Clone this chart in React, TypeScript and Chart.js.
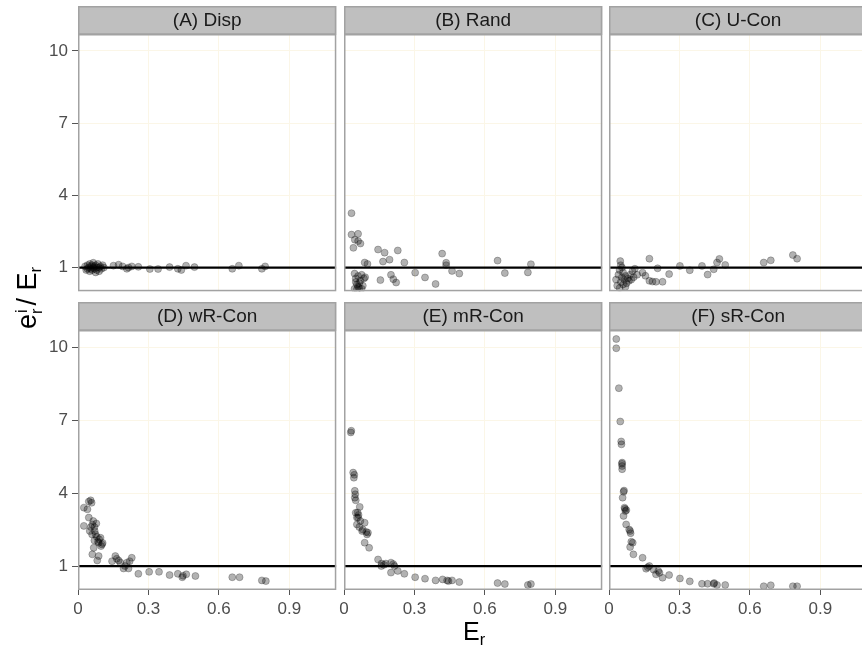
import React, { useEffect, useRef } from 'react';
import { Chart, registerables } from 'chart.js';

Chart.register(...registerables);

// ---------------- data ----------------
const panelTitles = ['(A) Disp', '(B) Rand', '(C) U-Con', '(D) wR-Con', '(E) mR-Con', '(F) sR-Con'];
const xTicks = [0, 0.3, 0.6, 0.9];
const yTicks = [1, 4, 7, 10];
const xLimits = [0, 1.1];
const yLimits = [0.015, 10.7];
const refValue = 1;

const dispX = [0.03, 0.035, 0.04, 0.04, 0.045, 0.05, 0.05, 0.055, 0.055, 0.06, 0.06, 0.065, 0.065, 0.07, 0.07, 0.075, 0.075, 0.08, 0.08, 0.085, 0.09, 0.09, 0.095, 0.1, 0.105, 0.11,
  0.151, 0.173, 0.19, 0.208, 0.215, 0.229, 0.257, 0.306, 0.341, 0.39, 0.425, 0.44, 0.46, 0.496, 0.657, 0.685, 0.783, 0.797];
const dispY = [1.05, 0.9, 1.1, 0.95, 1.0, 1.15, 0.85, 1.05, 0.95, 1.1, 0.9, 1.0, 1.2, 0.95, 1.05, 0.8, 1.1, 1.0, 0.9, 1.15, 1.0, 0.85, 1.05, 0.95, 1.1, 1.0,
  1.08, 1.12, 1.05, 0.95, 1.0, 1.05, 1.03, 0.94, 0.94, 1.02, 0.95, 0.9, 1.08, 1.02, 0.95, 1.08, 0.95, 1.05];

const randX = [0.032, 0.032, 0.06, 0.046, 0.06, 0.07, 0.04, 0.145, 0.173, 0.229, 0.166, 0.194, 0.257, 0.088, 0.1, 0.418, 0.435, 0.435, 0.46, 0.491, 0.303, 0.345, 0.39, 0.654, 0.685, 0.783, 0.796, 0.155, 0.2, 0.21, 0.222,
  0.045, 0.05, 0.055, 0.06, 0.065, 0.07, 0.075, 0.08, 0.085, 0.045, 0.055, 0.065, 0.09, 0.075, 0.05, 0.06];
const randY = [3.26, 2.37, 2.4, 2.16, 2.1, 2.0, 1.82, 1.75, 1.62, 1.71, 1.25, 1.33, 1.21, 1.21, 1.15, 1.58, 1.2, 1.1, 0.86, 0.75, 0.79, 0.59, 0.32, 1.29, 0.77, 0.8, 1.14, 0.48, 0.7, 0.52, 0.38,
  0.75, 0.55, 0.3, 0.65, 0.15, 0.45, 0.7, 0.25, 0.55, 0.12, 0.1, 0.35, 0.6, 0.12, 0.4, 0.2];

const uconX = [0.048, 0.05, 0.172, 0.143, 0.155, 0.172, 0.2, 0.228, 0.207, 0.256, 0.302, 0.344, 0.396, 0.42, 0.446, 0.46, 0.47, 0.495, 0.659, 0.689, 0.783, 0.801, 0.185,
  0.03, 0.035, 0.04, 0.045, 0.05, 0.055, 0.06, 0.06, 0.065, 0.07, 0.075, 0.08, 0.085, 0.09, 0.095, 0.1, 0.105, 0.045, 0.07, 0.11, 0.055, 0.12];
const uconY = [1.27, 1.1, 1.37, 0.79, 0.66, 0.45, 0.41, 0.41, 0.97, 0.73, 1.07, 0.89, 1.07, 0.71, 0.93, 1.21, 1.36, 1.11, 1.21, 1.3, 1.52, 1.37, 0.42,
  0.5, 0.25, 0.7, 0.9, 0.4, 0.6, 0.8, 0.3, 0.5, 0.65, 0.35, 0.55, 0.45, 0.7, 0.5, 0.85, 0.6, 0.15, 0.2, 0.95, 1.0, 0.7];

const wrX = [0.025, 0.04, 0.046, 0.054, 0.058, 0.025, 0.046, 0.061, 0.065, 0.05, 0.071, 0.075, 0.096, 0.088, 0.102, 0.098, 0.067, 0.061, 0.088, 0.082, 0.145, 0.159, 0.173, 0.194, 0.208, 0.229, 0.215, 0.257, 0.303, 0.345, 0.39, 0.425, 0.444, 0.447, 0.461, 0.5, 0.657, 0.688, 0.783, 0.8,
  0.055, 0.07, 0.08, 0.085, 0.09, 0.06, 0.078, 0.105, 0.07, 0.18, 0.2, 0.165, 0.22];
const wrY = [3.4, 3.33, 3.65, 3.7, 3.6, 2.65, 2.99, 2.71, 2.85, 2.44, 2.44, 2.3, 2.16, 1.96, 1.89, 1.82, 1.75, 1.48, 1.41, 1.23, 1.2, 1.41, 1.23, 0.9, 1.14, 1.34, 0.9, 0.68, 0.76, 0.76, 0.63, 0.68, 0.54, 0.6, 0.66, 0.59, 0.54, 0.54, 0.41, 0.38,
  2.6, 2.6, 2.2, 2.0, 2.1, 2.3, 2.75, 1.95, 2.05, 1.15, 1.0, 1.3, 1.2];

const mrX = [0.029, 0.031, 0.039, 0.042, 0.044, 0.046, 0.046, 0.05, 0.067, 0.05, 0.055, 0.06, 0.055, 0.088, 0.077, 0.102, 0.088, 0.107, 0.145, 0.159, 0.178, 0.2, 0.215, 0.2, 0.229, 0.257, 0.303, 0.345, 0.39, 0.42, 0.439, 0.445, 0.46, 0.491, 0.654, 0.685, 0.783, 0.796,
  0.048, 0.058, 0.062, 0.07, 0.065, 0.08, 0.095, 0.098, 0.16, 0.17, 0.21];
const mrY = [6.49, 6.56, 4.84, 4.63, 4.75, 4.09, 3.81, 3.7, 3.43, 3.19, 2.99, 2.99, 2.71, 2.78, 2.44, 2.37, 1.96, 1.75, 1.27, 1.0, 1.1, 1.14, 1.0, 0.73, 0.8, 0.68, 0.54, 0.48, 0.41, 0.45, 0.41, 0.38, 0.41, 0.34, 0.3, 0.26, 0.22, 0.26,
  3.95, 3.2, 3.1, 2.85, 2.6, 2.5, 2.4, 2.3, 1.1, 1.05, 1.08];

const srX = [0.031, 0.031, 0.042, 0.048, 0.052, 0.053, 0.056, 0.056, 0.056, 0.062, 0.058, 0.066, 0.07, 0.062, 0.073, 0.09, 0.092, 0.101, 0.09, 0.104, 0.143, 0.158, 0.172, 0.2, 0.21, 0.228, 0.256, 0.302, 0.344, 0.396, 0.42, 0.446, 0.448, 0.46, 0.495, 0.659, 0.689, 0.783, 0.801,
  0.055, 0.064, 0.068, 0.074, 0.086, 0.095, 0.165, 0.215, 0.19];
const srY = [10.33, 9.95, 8.31, 6.94, 6.12, 6.0, 5.25, 5.11, 4.98, 4.05, 3.81, 3.4, 3.26, 3.06, 2.71, 2.44, 2.35, 1.96, 1.78, 1.48, 1.34, 0.89, 1.0, 0.66, 0.8, 0.52, 0.63, 0.49, 0.37, 0.27, 0.27, 0.27, 0.3, 0.22, 0.22, 0.17, 0.21, 0.17, 0.17,
  5.2, 4.1, 3.35, 3.3, 2.5, 2.0, 0.95, 0.72, 0.85];

const panelXs = [dispX, randX, uconX, wrX, mrX, srX];
const panelYs = [dispY, randY, uconY, wrY, mrY, srY];

// ---------------- layout / style ----------------
const FONT = "'Liberation Sans', Arial, Helvetica, sans-serif";
const colLeft = [78, 344, 609];
const rowTop = [6, 302];
const AREA_W = 261;
const AREA_H = 260;
const STRIP_H = 28;
const BOTTOM_H = 40;
const Y_AXIS_W = 78;
const PAD_L = 10;
const gridColor = '#fbf6e7';
const panelBorder = '#a2a2a2';
const stripFill = '#bfbfbf';
const tickText = '#4d4d4d';

const facetPlugin = {
  id: 'facetDecor',
  beforeDraw(chart: any) {
    const s = chart.scales.strip;
    const ctx = chart.ctx;
    if (!s) return;
    ctx.save();
    ctx.fillStyle = stripFill;
    ctx.fillRect(s.left, s.top, s.right - s.left, s.bottom - s.top);
    ctx.strokeStyle = panelBorder;
    ctx.lineWidth = 1.5;
    ctx.strokeRect(s.left + 0.75, s.top + 0.75, s.right - s.left - 1.5, s.bottom - s.top - 0.75);
    ctx.restore();
  },
  afterDatasetsDraw(chart: any) {
    const a = chart.chartArea;
    const ctx = chart.ctx;
    ctx.save();
    ctx.strokeStyle = panelBorder;
    ctx.lineWidth = 1.5;
    ctx.strokeRect(a.left + 0.75, a.top + 0.75, a.right - a.left - 1.5, a.bottom - a.top - 1.5);
    ctx.restore();
  },
};

function zeroPad(s: any) {
  s.paddingLeft = 0;
  s.paddingRight = 0;
  s.paddingTop = 0;
  s.paddingBottom = 0;
}

function Panel({ index }: { index: number }) {
  const ref = useRef<HTMLCanvasElement>(null);
  const col = index % 3;
  const row = Math.floor(index / 3);
  const isLeft = col === 0;
  const isBottom = row === 1;
  const yW = isLeft ? Y_AXIS_W : 0;
  const padL = isLeft ? 0 : PAD_L;
  const w = padL + yW + AREA_W + 2;
  const h = STRIP_H + AREA_H + (isBottom ? BOTTOM_H : 2);
  const left = colLeft[col] - yW - padL;
  const top = rowTop[row];

  useEffect(() => {
    const xs = panelXs[index];
    const ys = panelYs[index];
    const points = xs.map((x, i) => ({ x, y: ys[i] }));
    const chart = new Chart(ref.current as HTMLCanvasElement, {
      type: 'scatter',
      data: {
        datasets: [
          {
            type: 'line',
            data: [
              { x: xLimits[0], y: refValue },
              { x: xLimits[1], y: refValue },
            ],
            borderColor: '#000000',
            borderWidth: 2.2,
            pointRadius: 0,
            order: 0,
            xAxisID: 'x',
            yAxisID: 'y',
          } as any,
          {
            type: 'scatter',
            data: points,
            backgroundColor: 'rgba(0,0,0,0.3)',
            borderColor: 'rgba(0,0,0,0.35)',
            borderWidth: 0.7,
            pointRadius: 3.5,
            order: 1,
            xAxisID: 'x',
            yAxisID: 'y',
          } as any,
        ],
      },
      options: {
        responsive: false,
        animation: false,
        events: [],
        layout: { padding: { left: padL, right: 2, top: 0, bottom: isBottom ? 0 : 2 } },
        plugins: { legend: { display: false }, tooltip: { enabled: false }, title: { display: false } },
        scales: {
          x: {
            type: 'linear',
            position: 'bottom',
            min: xLimits[0],
            max: xLimits[1],
            afterBuildTicks: (s: any) => {
              s.ticks = xTicks.map((v) => ({ value: v }));
            },
            ticks: {
              display: isBottom,
              callback: (v: any) => String(v),
              color: tickText,
              font: { size: 17, family: FONT },
              padding: 4,
              maxRotation: 0,
              autoSkip: false,
            },
            grid: { color: gridColor, drawTicks: isBottom, tickLength: 5, tickColor: '#555555', lineWidth: 1 },
            border: { display: false },
            afterFit: (s: any) => {
              s.height = isBottom ? BOTTOM_H : 0;
              zeroPad(s);
            },
          },
          y: {
            type: 'linear',
            position: 'left',
            min: yLimits[0],
            max: yLimits[1],
            afterBuildTicks: (s: any) => {
              s.ticks = yTicks.map((v) => ({ value: v }));
            },
            ticks: {
              display: isLeft,
              callback: (v: any) => String(v),
              color: tickText,
              font: { size: 17, family: FONT },
              padding: 4,
              autoSkip: false,
            },
            grid: { color: gridColor, drawTicks: isLeft, tickLength: 6, tickColor: '#555555', lineWidth: 1 },
            border: { display: false },
            afterFit: (s: any) => {
              s.width = yW;
              zeroPad(s);
            },
          },
          strip: {
            type: 'linear',
            position: 'top',
            ticks: { display: false },
            grid: { display: false, drawTicks: false },
            border: { display: false },
            title: {
              display: true,
              text: panelTitles[index],
              color: '#1a1a1a',
              font: { size: 19, family: FONT },
              padding: { top: 3, bottom: 0 },
            },
            afterFit: (s: any) => {
              s.height = STRIP_H;
              zeroPad(s);
            },
          },
        } as any,
      },
      plugins: [facetPlugin],
    } as any);
    return () => chart.destroy();
  }, [index]);

  return (
    <canvas
      ref={ref}
      width={w}
      height={h}
      style={{ position: 'absolute', left, top, width: w, height: h, display: 'block' }}
    />
  );
}

export default function App() {
  const titleFont: React.CSSProperties = { fontFamily: FONT, fontSize: 25, color: '#000' };
  return (
    <div style={{ position: 'absolute', left: 0, top: 0, width: 862, height: 652, overflow: 'hidden', background: '#fff' }}>
      {panelTitles.map((_, i) => (
        <Panel key={i} index={i} />
      ))}
      <div
        style={{
          ...titleFont,
          position: 'absolute',
          left: colLeft[0],
          width: colLeft[2] + AREA_W - colLeft[0],
          top: 616,
          textAlign: 'center',
          lineHeight: '30px',
        }}
      >
        E<sub style={{ fontSize: '0.65em', verticalAlign: '-0.3em', lineHeight: 0 }}>r</sub>
      </div>
      <div
        style={{
          ...titleFont,
          fontSize: 27,
          position: 'absolute',
          left: 27 - 100,
          top: 298 - 18,
          width: 200,
          height: 36,
          lineHeight: '36px',
          textAlign: 'center',
          transform: 'rotate(-90deg)',
          transformOrigin: 'center center',
          whiteSpace: 'nowrap',
        }}
      >
        e
        <span
          style={{
            display: 'inline-flex',
            flexDirection: 'column',
            fontSize: '0.6em',
            lineHeight: '0.95em',
            verticalAlign: '0.55em',
            marginRight: 3,
          }}
        >
          <span>i</span>
          <span>r</span>
        </span>
        / E<sub style={{ fontSize: '0.62em', verticalAlign: '-0.3em', lineHeight: 0 }}>r</sub>
      </div>
    </div>
  );
}
